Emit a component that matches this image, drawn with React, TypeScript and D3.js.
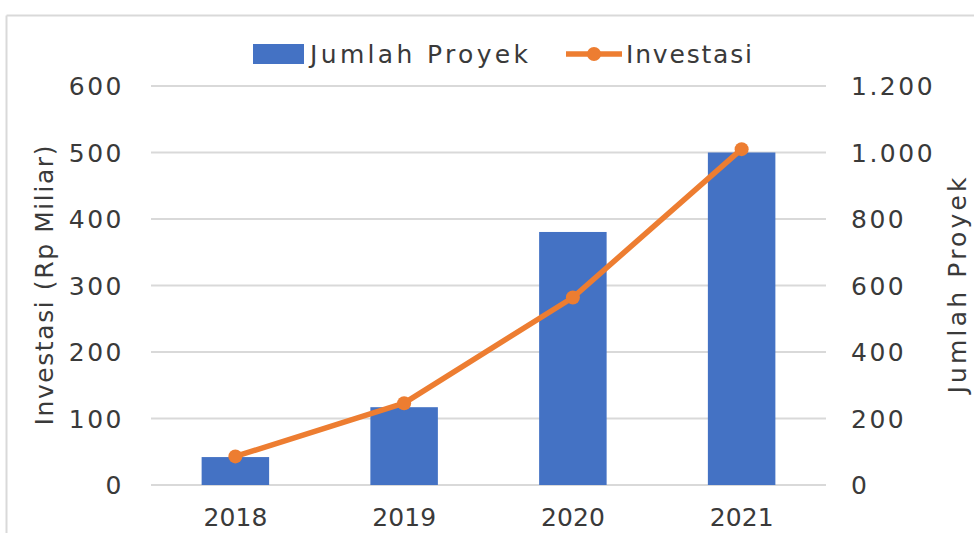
import React from 'react';
import * as d3 from 'd3';

const years = ['2018', '2019', '2020', '2021'];
const jumlahProyek = [84, 234, 761, 1000];
const investasi = [43, 123, 282, 505];
const leftTicks = [0, 100, 200, 300, 400, 500, 600];
const rightTicks = [0, 200, 400, 600, 800, 1000, 1200];
const legendLabels = ['Jumlah Proyek', 'Investasi'];
const leftTitle = 'Investasi (Rp Miliar)';
const rightTitle = 'Jumlah Proyek';

const W = 974;
const H = 533;
const plot = { left: 151, right: 826, top: 86, bottom: 485 };
const BLUE = '#4472C4';
const ORANGE = '#ED7D31';
const GRID = '#d9d9d9';
const TEXT = '#3a3a3a';
const FONT = '"DejaVu Sans", sans-serif';

const fmtRight = (v: number) => d3.format(',')(v).replace(/,/g, '.');

export default function App() {
  const x = d3.scaleBand<string>().domain(years).range([plot.left, plot.right]).paddingInner(0.6).paddingOuter(0.3);
  const xc = (y: string) => (x(y) as number) + x.bandwidth() / 2;
  const yL = d3.scaleLinear().domain([0, 600]).range([plot.bottom, plot.top]);
  const yR = d3.scaleLinear().domain([0, 1200]).range([plot.bottom, plot.top]);
  const line = d3.line<number>().x((_, i) => xc(years[i])).y((d) => yL(d));

  const ts: React.CSSProperties = { fontFamily: FONT, fontSize: 25, fill: TEXT, letterSpacing: '2.5px' };
  const tl: React.CSSProperties = { fontFamily: FONT, fontSize: 25, fill: TEXT };
  const cy = (plot.top + plot.bottom) / 2;

  return (
    <svg width={W} height={H} style={{ position: 'absolute', left: 0, top: 0, background: '#fff' }}>
      <rect x={0} y={0} width={W} height={H} fill="#fff" />
      {/* frame */}
      <line x1={6.5} x2={W} y1={15.5} y2={15.5} stroke={GRID} strokeWidth={2} />
      <line x1={6.5} x2={6.5} y1={15.5} y2={H} stroke={GRID} strokeWidth={2} />

      {/* gridlines */}
      {leftTicks.map((t) => (
        <line key={t} x1={plot.left} x2={plot.right} y1={yL(t)} y2={yL(t)} stroke={GRID} strokeWidth={2} />
      ))}

      {/* bars */}
      {years.map((yr, i) => (
        <rect key={yr} x={x(yr)} y={yR(jumlahProyek[i])} width={x.bandwidth()} height={yR(0) - yR(jumlahProyek[i])} fill={BLUE} />
      ))}

      {/* line */}
      <path d={line(investasi) as string} fill="none" stroke={ORANGE} strokeWidth={5.5} strokeLinejoin="round" />
      {investasi.map((v, i) => (
        <circle key={i} cx={xc(years[i])} cy={yL(v)} r={7} fill={ORANGE} />
      ))}

      {/* left ticks */}
      {leftTicks.map((t) => (
        <text key={t} x={124} y={yL(t)} dy="0.36em" textAnchor="end" style={ts}>{t}</text>
      ))}
      {/* right ticks */}
      {rightTicks.map((t) => (
        <text key={t} x={851} y={yR(t)} dy="0.36em" textAnchor="start" style={ts}>{fmtRight(t)}</text>
      ))}
      {/* x labels */}
      {years.map((yr) => (
        <text key={yr} x={xc(yr)} y={526} textAnchor="middle" style={tl} textLength={64} lengthAdjust="spacing">{yr}</text>
      ))}

      {/* axis titles */}
      <text transform={`translate(53, ${cy}) rotate(-90)`} textAnchor="middle" style={tl} textLength={280} lengthAdjust="spacing">{leftTitle}</text>
      <text transform={`translate(966, ${cy}) rotate(-90)`} textAnchor="middle" style={tl} textLength={216} lengthAdjust="spacing">{rightTitle}</text>

      {/* legend */}
      <rect x={253} y={44} width={51} height={20} fill={BLUE} />
      <text x={310} y={63} style={tl} textLength={218} lengthAdjust="spacing">{legendLabels[0]}</text>
      <line x1={566} x2={622} y1={54} y2={54} stroke={ORANGE} strokeWidth={5.5} />
      <circle cx={594} cy={54} r={7} fill={ORANGE} />
      <text x={626} y={63} style={tl} textLength={126} lengthAdjust="spacing">{legendLabels[1]}</text>
    </svg>
  );
}
